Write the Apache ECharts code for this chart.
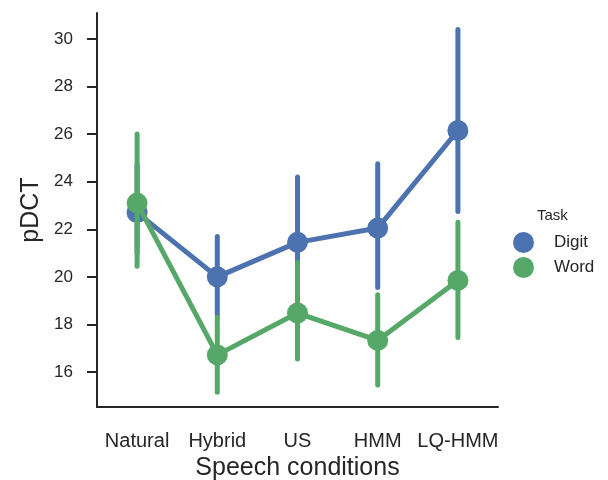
<!DOCTYPE html>
<html>
<head>
<meta charset="utf-8">
<script src="https://cdn.jsdelivr.net/npm/echarts@6/dist/echarts.min.js"></script>
<style>html,body{margin:0;padding:0;background:#fff;}#c{width:608px;height:480px;}</style>
</head>
<body>
<div id="c"></div>
<script>
const categories = ['Natural', 'Hybrid', 'US', 'HMM', 'LQ-HMM'];
const yTicks = [16, 18, 20, 22, 24, 26, 28, 30];
const digitMean = [22.7, 20.0, 21.45, 22.05, 26.15];
const digitLow  = [21.0, 18.4, 19.0, 19.55, 22.75];
const digitHigh = [24.7, 21.7, 24.2, 24.75, 30.4];
const wordMean  = [23.1, 16.72, 18.48, 17.33, 19.85];
const wordLow   = [20.45, 15.15, 16.55, 15.45, 17.45];
const wordHigh  = [26.0, 18.3, 20.6, 19.25, 22.3];

const BLUE = '#4C72B0', GREEN = '#55A868', INK = '#262626';
const FONT = 'Liberation Sans, Arial, sans-serif';

function errData(low, high) {
  return categories.map((c, i) => [i, low[i], high[i]]);
}
function errSeries(name, low, high, color, z) {
  return {
    type: 'custom', name: name, z: z, silent: true,
    data: errData(low, high),
    renderItem: function (params, api) {
      const p1 = api.coord([api.value(0), api.value(1)]);
      const p2 = api.coord([api.value(0), api.value(2)]);
      return {
        type: 'line',
        shape: { x1: p1[0], y1: p1[1], x2: p2[0], y2: p2[1] },
        style: { stroke: color, lineWidth: 5, lineCap: 'round' }
      };
    }
  };
}

const chart = echarts.init(document.getElementById('c'), null, { renderer: 'canvas' });
chart.setOption({
  animation: false,
  textStyle: { fontFamily: FONT, color: INK },
  title: {
    text: 'Task', left: 532, top: 203,
    textStyle: { fontFamily: FONT, fontSize: 15, fontWeight: 'normal', color: INK }
  },
  legend: {
    orient: 'vertical', left: 513, top: 232, icon: 'circle', padding: 0,
    itemWidth: 21, itemHeight: 21, itemGap: 4,
    data: ['Digit', 'Word'],
    textStyle: { fontFamily: FONT, fontSize: 17, color: INK, padding: [0, 0, 0, 15] }
  },
  grid: { left: 97, right: 110, top: 13, bottom: 73, containLabel: false, outerBoundsMode: 'none' },
  xAxis: {
    type: 'category', data: categories, boundaryGap: true,
    name: 'Speech conditions', nameLocation: 'middle', nameGap: 46,
    nameTextStyle: { fontFamily: FONT, fontSize: 25, color: INK },
    axisLine: { lineStyle: { color: INK, width: 2 } },
    axisTick: { alignWithLabel: true, length: 10, lineStyle: { color: INK, width: 2 } },
    axisLabel: { fontFamily: FONT, fontSize: 20, color: INK, margin: 24, interval: 0 },
    splitLine: { show: false }
  },
  yAxis: {
    type: 'value', min: 14.53, max: 31.09,
    name: 'pDCT', nameLocation: 'middle', nameGap: 49,
    nameTextStyle: { fontFamily: FONT, fontSize: 25, color: INK },
    axisLine: { show: true, lineStyle: { color: INK, width: 2 } },
    axisTick: { show: true, length: 10, customValues: yTicks, lineStyle: { color: INK, width: 2 } },
    axisLabel: { fontFamily: FONT, fontSize: 17, color: INK, margin: 24, customValues: yTicks },
    splitLine: { show: false }
  },
  series: [
    errSeries('DigitErr', digitLow, digitHigh, BLUE, 1),
    {
      type: 'line', name: 'Digit', z: 2, data: digitMean,
      symbol: 'circle', symbolSize: 21, showSymbol: true,
      lineStyle: { color: BLUE, width: 5 }, itemStyle: { color: BLUE, borderWidth: 0 }
    },
    errSeries('WordErr', wordLow, wordHigh, GREEN, 3),
    {
      type: 'line', name: 'Word', z: 4, data: wordMean,
      symbol: 'circle', symbolSize: 21, showSymbol: true,
      lineStyle: { color: GREEN, width: 5 }, itemStyle: { color: GREEN, borderWidth: 0 }
    }
  ]
});
</script>
</body>
</html>
